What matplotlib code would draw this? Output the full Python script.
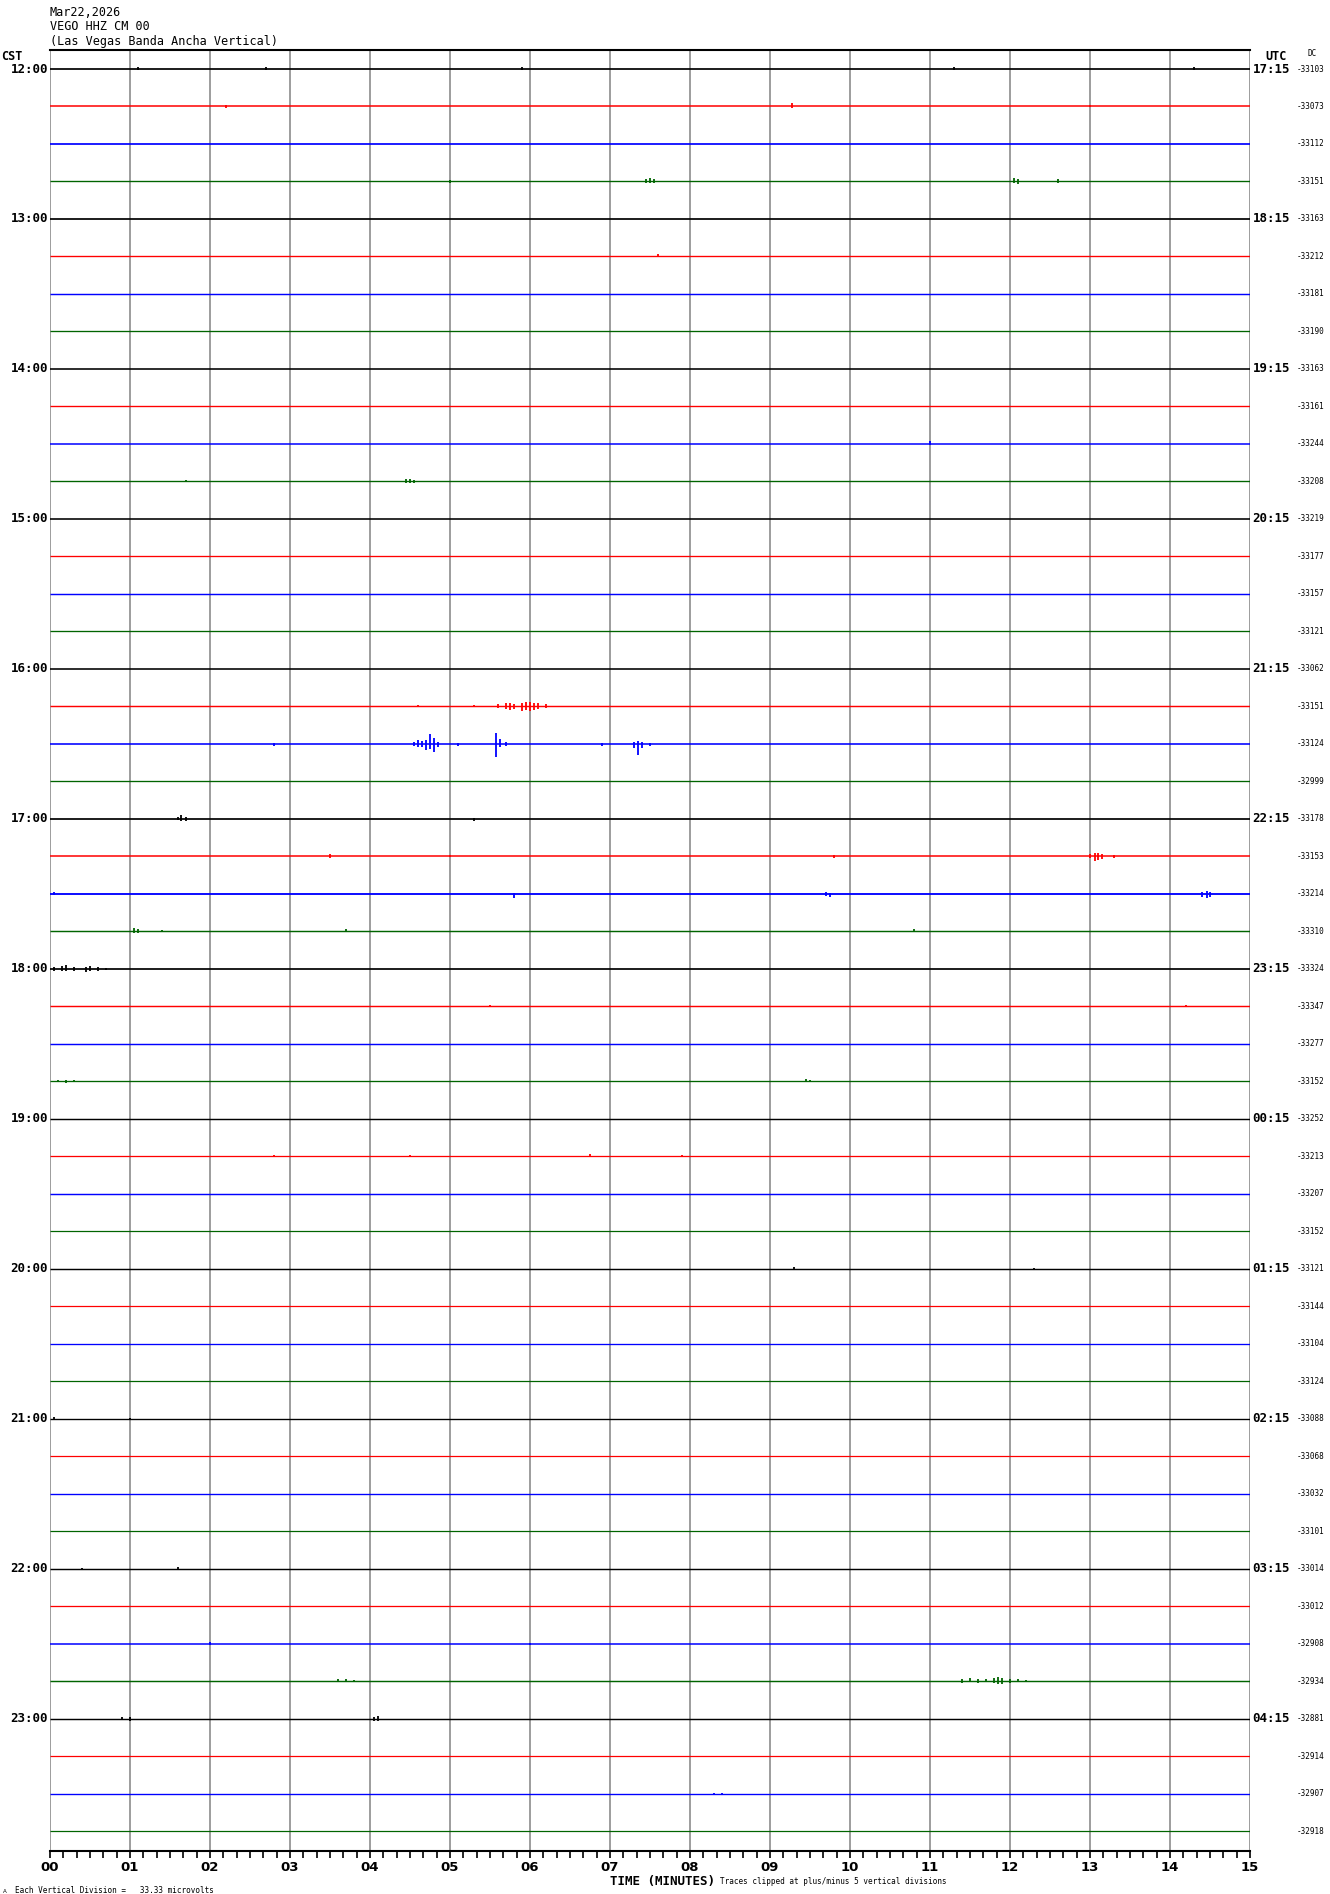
import matplotlib
matplotlib.use("Agg")
import matplotlib.pyplot as plt
import numpy as np

# header / labels
header = ["Mar22,2026", "VEGO HHZ CM 00", "(Las Vegas Banda Ancha Vertical)"]
cst_hours = ["12:00", "13:00", "14:00", "15:00", "16:00", "17:00",
             "18:00", "19:00", "20:00", "21:00", "22:00", "23:00"]
utc_hours = ["17:15", "18:15", "19:15", "20:15", "21:15", "22:15",
             "23:15", "00:15", "01:15", "02:15", "03:15", "04:15"]
minute_labels = ["00", "01", "02", "03", "04", "05", "06", "07",
                 "08", "09", "10", "11", "12", "13", "14", "15"]

# DC offset printed at the right of each line
dc_values = [-33103, -33073, -33112, -33151, -33163, -33212, -33181, -33190,
             -33163, -33161, -33244, -33208, -33219, -33177, -33157, -33121,
             -33062, -33151, -33124, -32999, -33178, -33153, -33214, -33310,
             -33324, -33347, -33277, -33152, -33252, -33213, -33207, -33152,
             -33121, -33144, -33104, -33124, -33088, -33068, -33032, -33101,
             -33014, -33012, -32908, -32934, -32881, -32914, -32907, -32918]

trace_colors = ["black", "red", "blue", "#006400"]

# background noise thickness of each line (pixels)
noise = [1.5, 1.0, 1.5, 0.6, 1.5, 0.6, 0.8, 0.5,
         1.2, 0.6, 1.0, 0.6, 1.2, 0.5, 0.8, 0.5,
         1.2, 0.8, 1.2, 0.5, 1.5, 1.0, 1.8, 0.8,
         1.5, 0.8, 0.8, 0.5, 0.8, 0.4, 0.8, 0.3,
         0.8, 0.3, 0.5, 0.3, 0.6, 0.3, 0.6, 0.3,
         0.8, 0.4, 1.0, 0.8, 0.8, 0.3, 0.6, 0.3]

# events: trace index -> [(minute, up px, down px)]
spikes = {
    0: [(1.1, 2, 1), (2.7, 2, 1), (5.9, 2, 1), (11.3, 2, 1), (14.3, 2, 1)],
    1: [(9.28, 3, 2), (2.2, 1, 2), (13.0, 1, 1)],
    3: [(7.45, 2, 2), (7.5, 3, 2), (7.55, 2, 2), (12.05, 3, 2), (12.1, 2, 3),
        (12.6, 2, 2), (5.0, 1, 2)],
    5: [(7.6, 2, 1)],
    10: [(11.0, 3, 1)],
    11: [(4.45, 2, 2), (4.5, 2, 2), (4.55, 1, 2), (1.7, 1, 1)],
    17: [(5.6, 2, 2), (5.7, 3, 3), (5.75, 3, 4), (5.8, 2, 3), (5.9, 3, 5),
         (5.95, 4, 4), (6.0, 4, 5), (6.05, 3, 4), (6.1, 3, 3), (6.2, 2, 2),
         (4.6, 1, 1), (5.3, 1, 1)],
    18: [(4.55, 2, 2), (4.6, 4, 3), (4.65, 3, 3), (4.7, 4, 6), (4.75, 10, 5),
         (4.8, 6, 8), (4.85, 2, 3), (5.58, 11, 13), (5.63, 5, 3), (5.7, 2, 2),
         (7.3, 2, 4), (7.35, 3, 11), (7.4, 2, 4), (7.5, 1, 2), (2.8, 1, 2),
         (5.1, 1, 2), (6.9, 1, 2)],
    20: [(1.6, 2, 1), (1.64, 4, 2), (1.7, 2, 2), (5.3, 1, 2)],
    21: [(13.0, 2, 2), (13.06, 3, 5), (13.1, 3, 4), (13.15, 2, 3), (13.3, 1, 2),
         (3.5, 2, 2), (9.8, 1, 2), (5.0, 1, 1)],
    22: [(5.8, 1, 4), (9.7, 2, 2), (9.75, 1, 3), (14.4, 2, 3), (14.46, 3, 4),
         (14.5, 2, 3), (0.05, 2, 1)],
    23: [(1.05, 3, 2), (1.1, 2, 2), (3.7, 2, 1), (10.8, 2, 1), (1.4, 1, 1)],
    24: [(0.05, 2, 2), (0.15, 3, 2), (0.2, 4, 2), (0.3, 2, 2), (0.45, 2, 3),
         (0.5, 3, 2), (0.6, 2, 2), (0.7, 1, 1)],
    25: [(5.5, 1, 1), (14.2, 1, 1)],
    27: [(0.1, 1, 1), (0.2, 1, 2), (0.3, 1, 1), (9.45, 2, 1), (9.5, 1, 1)],
    29: [(2.8, 1, 1), (4.5, 1, 1), (6.75, 2, 1), (7.9, 1, 1)],
    32: [(9.3, 2, 1), (12.3, 1, 1)],
    36: [(0.05, 2, 1), (1.0, 1, 1)],
    40: [(1.6, 2, 1), (0.4, 1, 1)],
    42: [(2.0, 2, 1), (6.0, 1, 1)],
    43: [(11.4, 2, 2), (11.5, 3, 1), (11.6, 2, 2), (11.7, 2, 1), (11.8, 3, 2),
         (11.85, 4, 3), (11.9, 3, 3), (12.0, 2, 2), (12.1, 2, 1), (12.2, 1, 1),
         (3.6, 2, 1), (3.7, 2, 1), (3.8, 1, 1)],
    44: [(0.9, 2, 1), (1.0, 2, 2), (4.05, 2, 2), (4.1, 3, 2)],
    46: [(8.3, 1, 1), (8.4, 1, 1)],
}

n_traces = len(dc_values)
row_px = 37.49          # pixel distance between lines

fig = plt.figure(figsize=(13.3, 18.94), dpi=100)
ax = fig.add_axes([50 / 1330, 1 - 1851 / 1894, 1200 / 1330, 1801 / 1894])
ax.set_xlim(0, 15)
ax.set_ylim((1851 - 69) / row_px, -(69 - 50) / row_px)

for m in range(16):
    ax.axvline(m, color="#8c8c8c", lw=1.2, zorder=1)

rows = np.arange(n_traces)
for i in rows:
    c = trace_colors[i % 4]
    ax.plot([0, 15], [i, i], color=c, lw=0.8 + 0.3 * noise[i], zorder=2,
            solid_capstyle="butt")
    if i in spikes:
        ev = spikes[i]
        xs = [e[0] for e in ev]
        lo = [i - e[1] / row_px for e in ev]
        hi = [i + e[2] / row_px for e in ev]
        ax.vlines(xs, lo, hi, color=c, lw=1.3, zorder=3)

for s in ["left", "right"]:
    ax.spines[s].set_visible(False)
ax.spines["top"].set_linewidth(1.5)
ax.spines["bottom"].set_linewidth(1.5)

ax.set_xticks(range(16))
ax.set_xticklabels(minute_labels, fontsize=9.5, fontweight="bold",
                   family="DejaVu Sans")
ax.set_xticks(np.arange(0, 15.01, 1 / 6), minor=True)
ax.tick_params(axis="x", which="both", direction="out", length=5, width=1.2,
               pad=2)
ax.set_yticks([])

for k in range(12):
    y = 4 * k
    ax.text(-0.025, y, cst_hours[k], ha="right", va="center", fontsize=9,
            fontweight="bold", family="DejaVu Sans Mono")
    ax.text(15.03, y, utc_hours[k], ha="left", va="center", fontsize=9,
            fontweight="bold", family="DejaVu Sans Mono", clip_on=False)

for i in rows:
    ax.text(15.58, i, str(dc_values[i]), ha="left", va="center", fontsize=5.5,
            family="DejaVu Sans Mono", clip_on=False)

hy = [12, 27, 42]
for t, y in zip(header, hy):
    fig.text(50 / 1330, 1 - y / 1894, t, ha="left", va="center", fontsize=8.5,
             family="DejaVu Sans Mono")

fig.text(1 / 1330, 1 - 56 / 1894, "CST", ha="left", va="center", fontsize=8.5,
         fontweight="bold", family="DejaVu Sans Mono")
fig.text(1276 / 1330, 1 - 56 / 1894, "UTC", ha="center", va="center",
         fontsize=8.5, fontweight="bold", family="DejaVu Sans Mono")
fig.text(1312 / 1330, 1 - 54 / 1894, "DC", ha="center", va="center",
         fontsize=5.5, family="DejaVu Sans Mono")

fig.text(662 / 1330, 1 - 1881 / 1894, "TIME (MINUTES)", ha="center",
         va="center", fontsize=9, fontweight="bold", family="DejaVu Sans Mono")
fig.text(15 / 1330, 1 - 1890 / 1894,
         "Each Vertical Division =   33.33 microvolts", ha="left",
         va="center", fontsize=5.5, family="DejaVu Sans Mono")
fig.text(720 / 1330, 1 - 1881 / 1894,
         "Traces clipped at plus/minus 5 vertical divisions", ha="left",
         va="center", fontsize=5.5, family="DejaVu Sans Mono")
fig.text(3 / 1330, 1 - 1891 / 1894, "A", ha="left", va="center", fontsize=4,
         family="DejaVu Sans")

fig.savefig("out.png", dpi=100)
